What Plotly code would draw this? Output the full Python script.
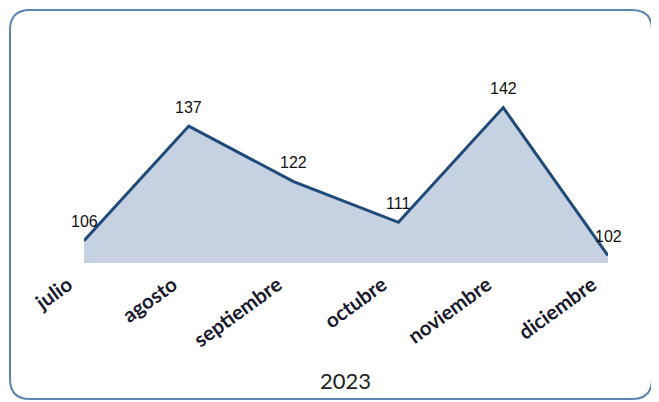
import plotly.graph_objects as go

months = ["julio", "agosto", "septiembre", "octubre", "noviembre", "diciembre"]
values = [106, 137, 122, 111, 142, 102]
year_label = "2023"

# page body has an 8px margin; work in reference pixels shifted by OFF
OFF = 8
W, H = 659 - OFF, 402 - OFF
L, R, T, B = 84 - OFF, 51, 41 - OFF, 139
pw, ph = W - L - R, H - T - B

def px(x):
    return (x - OFF - L) / pw

def py(y):
    return (H - B - (y - OFF)) / ph

fig = go.Figure()
fig.add_trace(go.Scatter(
    x=months, y=values, mode="lines",
    line=dict(color="#1f4a7a", width=3),
    fill="tozeroy", fillcolor="#c6d2e1",
    cliponaxis=False, hoverinfo="skip",
))

for m, v in zip(months, values):
    fig.add_annotation(x=m, y=v, text=str(v), showarrow=False,
                       xanchor="center", yanchor="middle", yshift=19,
                       font=dict(family="Liberation Sans", size=16, color="#111111"))

# rounded border
x0, x1, y0, y1, r = 10, 652, 10, 399, 20
rx, ry = r / pw, r / ph
X0, X1, Y0, Y1 = px(x0), px(x1), py(y0), py(y1)
path = (f"M {X0+rx},{Y0} L {X1-rx},{Y0} Q {X1},{Y0} {X1},{Y0-ry} "
        f"L {X1},{Y1+ry} Q {X1},{Y1} {X1-rx},{Y1} L {X0+rx},{Y1} "
        f"Q {X0},{Y1} {X0},{Y1+ry} L {X0},{Y0-ry} Q {X0},{Y0} {X0+rx},{Y0} Z")
fig.add_shape(type="path", path=path, xref="paper", yref="paper",
              line=dict(color="#5b84b3", width=2), layer="below")

fig.add_annotation(text=year_label, xref="paper", yref="paper",
                   x=px(345), y=py(380), showarrow=False,
                   xanchor="center", yanchor="middle",
                   font=dict(family="Lato", size=22, color="#222222"))

fig.update_layout(
    width=W, height=H, margin=dict(l=L, r=R, t=T, b=B),
    paper_bgcolor="white", plot_bgcolor="white", showlegend=False,
    xaxis=dict(range=[0, 5], showgrid=False, zeroline=False, showline=False,
               ticks="", tickangle=-36, ticklabelshift=-16, ticklabelstandoff=5,
               tickfont=dict(family="Lato", size=20.5, color="#1a1a2e", weight="bold")),
    yaxis=dict(range=[100, 160], showgrid=False, zeroline=False,
               showline=False, showticklabels=False, ticks=""),
)

fig.write_html("out.html")
